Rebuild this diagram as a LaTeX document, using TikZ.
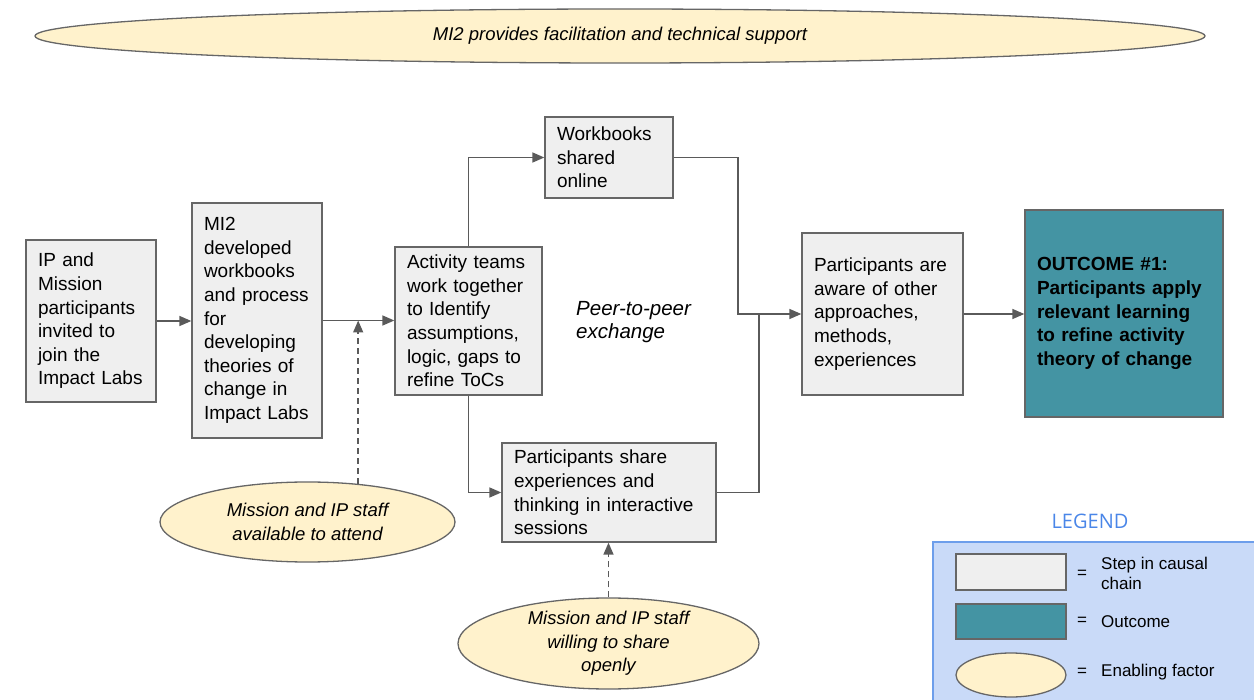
\documentclass[tikz,border=0pt]{standalone}
\usepackage{fontspec}
\setmainfont{Liberation Sans}
\newfontfamily\legendfont{Open Sans}
\usetikzlibrary{arrows.meta,shapes.geometric}
\hyphenpenalty=10000
\exhyphenpenalty=10000

\definecolor{stepfill}{HTML}{EFEFEF}
\definecolor{edgegray}{HTML}{666666}
\definecolor{linkgray}{HTML}{5A5A5A}
\definecolor{outcometeal}{RGB}{68,148,163}
\definecolor{factorfill}{HTML}{FFF2CC}
\definecolor{legendfill}{HTML}{C9DAF8}
\definecolor{legendedge}{HTML}{6D9EEB}
\definecolor{legendblue}{HTML}{4A86E8}

\begin{document}
\begin{tikzpicture}[x=1pt,y=-1pt,
  stepbox/.style={draw=edgegray,fill=stepfill,line width=1.3pt,inner xsep=12pt,
    inner ysep=0pt,align=left,font=\fontsize{19}{23.6}\selectfont},
  goalbox/.style={stepbox,fill=outcometeal,font=\fontsize{19}{23.6}\selectfont\bfseries},
  factor/.style={ellipse,draw=edgegray,fill=factorfill,line width=1.3pt,inner sep=0pt,
    align=center,font=\fontsize{18.5}{23.5}\selectfont\itshape},
  link/.style={draw=linkgray,line width=1.5pt},
  arr/.style={link,-{Triangle[length=12pt,width=10pt]}},
  dasharr/.style={arr,dash pattern=on 6pt off 4pt},
  keytext/.style={inner sep=0pt,align=left,font=\fontsize{17}{20}\selectfont},
]
\useasboundingbox (0,0) rectangle (1254,700);

% facilitation banner
\node[factor,minimum width=1170pt,minimum height=54pt] (support) at (620,36)
  {MI2 provides facilitation and technical support};

% causal chain
\node[stepbox,text width=106pt,minimum height=162pt] (invite) at (91,321)
  {IP and\\ Mission\\ participants\\ invited~to\\ join~the\\ Impact~Labs};
\node[stepbox,text width=106pt,minimum height=235pt] (develop) at (257,320.5)
  {MI2\\ developed\\ workbooks\\ and~process\\ for\\ developing\\ theories~of\\ change~in\\ Impact~Labs};
\node[stepbox,text width=123pt,minimum height=148pt] (teams) at (468.5,321)
  {Activity~teams\\ work~together\\ to~Identify\\ assumptions,\\ logic,~gaps~to\\ refine~ToCs};
\node[stepbox,text width=104pt,minimum height=81pt] (online) at (609,157.5)
  {Workbooks\\ shared\\ online};
\node[stepbox,text width=190pt,minimum height=99pt] (share) at (609,492.5)
  {Participants~share\\ experiences~and\\ thinking~in~interactive\\ sessions};
\node[stepbox,text width=137pt,minimum height=162pt] (aware) at (882.5,314)
  {Participants~are\\ aware~of~other\\ approaches,\\ methods,\\ experiences};
\node[goalbox,text width=174pt,minimum height=207pt] (outcome) at (1124,313.5)
  {OUTCOME~\#1:\\ Participants~apply\\ relevant~learning\\ to~refine~activity\\ theory~of~change};

\node[inner sep=0pt,anchor=west,align=left,font=\fontsize{20.5}{23.5}\selectfont\itshape]
  (peer) at (576,322) {Peer-to-peer\\ exchange};

% enabling factors
\node[factor,minimum width=295pt,minimum height=80pt] (attend) at (307.5,522)
  {Mission and IP staff\\ available to attend};
\node[factor,minimum width=301pt,minimum height=91pt] (open) at (608.5,643.5)
  {Mission and IP staff\\ willing to share\\ openly};

% connectors
\coordinate (upper) at (738,314);
\coordinate (lower) at (759,314);
\draw[arr] (invite.east) -- (invite.east -| develop.west);
\draw[arr] (develop.east) -- (develop.east -| teams.west);
\draw[arr] (teams.north) |- (online.west);
\draw[arr] (teams.south) |- (share.west);
\draw[arr] (online.east) -| (upper) -- (aware.west);
\draw[link] (share.east) -| (lower);
\draw[arr] (aware.east) -- (aware.east -| outcome.west);
\draw[dasharr] (attend.37) -- (attend.37 |- develop.east);
\draw[dasharr] (open.north) -- (open.north |- share.south);

% legend
\node[font=\legendfont\fontsize{20}{24}\selectfont,text=legendblue,inner sep=0pt]
  (legendtitle) at (1090,521) {LEGEND};
\draw[draw=legendedge,fill=legendfill,line width=1.2pt] (933,542) rectangle (1262,708);
\node[draw=edgegray,fill=stepfill,line width=1.3pt,inner sep=0pt,
  minimum width=110pt,minimum height=36pt] (keystep) at (1011,572) {};
\node[draw=edgegray,fill=outcometeal,line width=1.3pt,inner sep=0pt,
  minimum width=110pt,minimum height=35pt] (keygoal) at (1011,621.5) {};
\node[factor,minimum width=110pt,minimum height=44pt] (keyfactor) at (1011,675) {};
\node[keytext] (eqstep) at (1082,574) {=};
\node[keytext] (eqgoal) at (1082,621.5) {=};
\node[keytext] (eqfactor) at (1082,672) {=};
\node[keytext,anchor=west] (labstep) at (1101,573) {Step in causal\\ chain};
\node[keytext,anchor=west] (labgoal) at (1101,621.5) {Outcome};
\node[keytext,anchor=west] (labfactor) at (1101,672) {Enabling factor};
\end{tikzpicture}
\end{document}
